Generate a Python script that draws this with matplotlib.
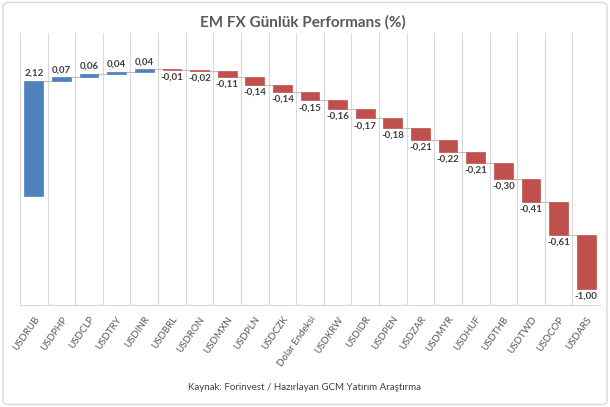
import matplotlib
matplotlib.use("Agg")
import matplotlib.pyplot as plt
import numpy as np
from matplotlib.patches import FancyBboxPatch

categories = ["USDRUB", "USDPHP", "USDCLP", "USDTRY", "USDINR", "USDBRL", "USDRON",
              "USDMXN", "USDPLN", "USDCZK", "Dolar Endeksi", "USDKRW", "USDIDR",
              "USDPEN", "USDZAR", "USDMYR", "USDHUF", "USDTHB", "USDTWD", "USDCOP", "USDARS"]
values = [2.12, 0.07, 0.06, 0.04, 0.04, -0.01, -0.02, -0.11, -0.14, -0.14, -0.15,
          -0.16, -0.17, -0.18, -0.21, -0.22, -0.21, -0.30, -0.41, -0.61, -1.00]
title = "EM FX Günlük Performans (%)"
source = "Kaynak: Forinvest / Hazırlayan GCM Yatırım Araştırma"

plt.rcParams['font.family'] = ['Lato', 'DejaVu Sans']

vals = np.array(values)
ends = np.cumsum(vals)
starts = ends - vals
x = np.arange(len(categories))
colors = ["#4F81BD" if v >= 0 else "#C0504D" for v in vals]

fig = plt.figure(figsize=(6.10, 4.07), dpi=100)
border = FancyBboxPatch((0.005, 0.006), 0.99, 0.988, boxstyle="round,pad=0,rounding_size=0.01",
                        transform=fig.transFigure, fill=False, edgecolor="#D9D9D9", lw=1.0)
fig.patches.append(border)

ax = fig.add_axes([20/610, 1-305/407, 580/610, 272/407])
w = 0.68
for b in np.arange(-0.5, len(categories) + 0.5, 1.0):
    ax.axvline(b, color="#D9D9D9", lw=0.8, zorder=0)
ax.bar(x, vals, bottom=starts, width=w, color=colors, edgecolor=colors, lw=0.5, zorder=3)
ax.hlines(ends[:-1], x[:-1] + w/2, x[1:] - w/2, color="#BFBFBF", lw=0.8, zorder=2)

for xi, v, s, e in zip(x, vals, starts, ends):
    lab = f"{v:.2f}".replace(".", ",")
    if v >= 0:
        ax.annotate(lab, (xi, e), xytext=(0, 2), textcoords="offset points",
                    ha="center", va="bottom", fontsize=7, fontweight="bold", color="#404040")
    else:
        ax.annotate(lab, (xi, e), xytext=(0, -2), textcoords="offset points",
                    ha="center", va="top", fontsize=7, fontweight="bold", color="#404040")

ax.set_xlim(-0.5, len(categories) - 0.5)
ax.set_ylim(-2, 3)
ax.set_yticks([])
ax.set_xticks(x)
ax.set_xticklabels(categories, rotation=55, ha="right", va="top", rotation_mode="anchor",
                   fontsize=7, color="#595959")
ax.tick_params(axis="x", length=0, pad=7)
for sp in ["top", "left", "right"]:
    ax.spines[sp].set_visible(False)
ax.spines["bottom"].set_color("#D9D9D9")
ax.patch.set_alpha(0)

fig.text(0.497, 1-22/407, title, ha="center", va="center", fontsize=11, fontweight="bold", color="#595959")
fig.text(0.5, 1-387/407, source, ha="center", va="center", fontsize=7, color="#404040")

fig.savefig("out.png", dpi=100)
